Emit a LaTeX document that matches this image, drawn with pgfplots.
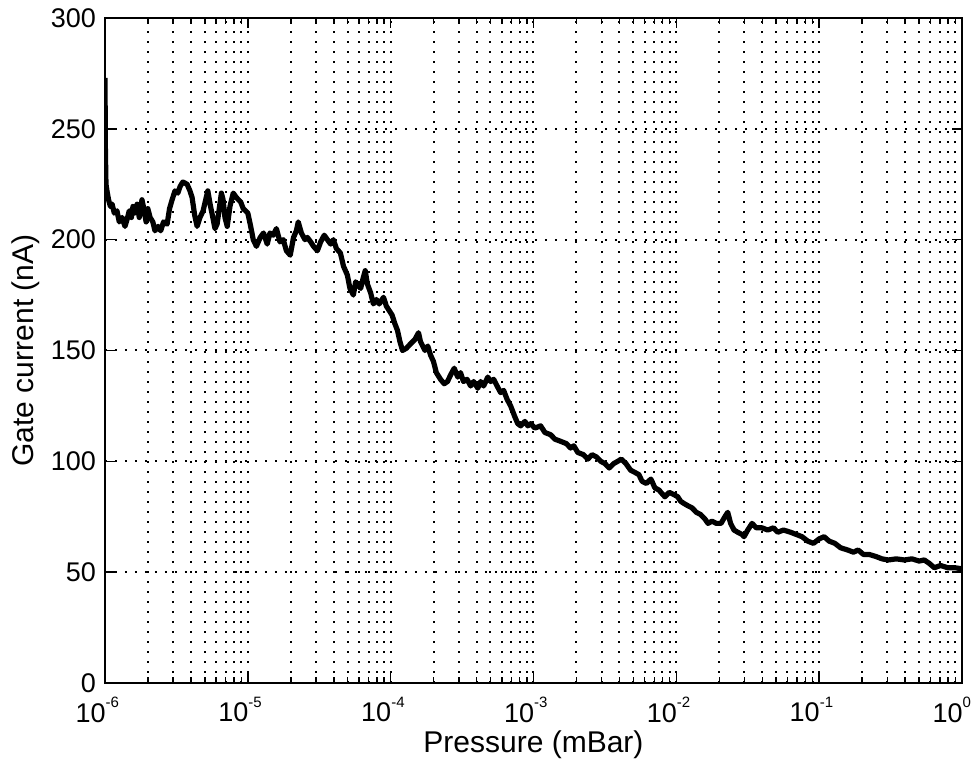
\documentclass[border=0pt]{standalone}
\usepackage{pgfplots}
\usepackage{pgfplotstable}
\pgfplotsset{compat=1.18}
\usepackage{fontspec}
\setmainfont{Liberation Sans}
\newcommand{\tp}[1]{10\rlap{\raisebox{1.0ex}{\fontsize{7.5}{8}\selectfont #1}}}
\pgfplotstableread{
lx v
-6.000 273
-5.997 240
-5.993 225
-5.986 222
-5.975 218
-5.962 215
-5.950 216
-5.935 212
-5.916 213
-5.900 208
-5.880 210
-5.860 206
-5.846 209
-5.830 213
-5.815 210
-5.804 215
-5.790 212
-5.775 216
-5.760 210
-5.741 218
-5.725 213
-5.712 208
-5.700 214
-5.684 210
-5.665 208
-5.650 204
-5.628 206
-5.610 204
-5.590 208
-5.565 207
-5.548 214
-5.530 218
-5.510 222
-5.490 221
-5.474 224
-5.455 226
-5.425 225
-5.405 222
-5.390 219
-5.372 211
-5.355 206
-5.335 210
-5.313 213
-5.295 218
-5.280 222
-5.264 216
-5.245 210
-5.230 205
-5.215 207
-5.200 214
-5.185 221
-5.173 218
-5.160 210
-5.144 206
-5.125 215
-5.102 221
-5.080 219
-5.050 217
-5.032 214
-5.000 212
-4.980 206
-4.962 200
-4.940 197
-4.913 201
-4.890 203
-4.864 198
-4.845 203
-4.822 202
-4.800 205
-4.775 199
-4.752 200
-4.730 195
-4.703 193
-4.680 201
-4.660 204
-4.647 208
-4.625 203
-4.600 200
-4.583 201
-4.560 199
-4.540 197
-4.513 195
-4.490 199
-4.465 202
-4.443 200
-4.420 198
-4.401 200
-4.380 196
-4.352 194
-4.330 188
-4.303 184
-4.285 178
-4.261 175
-4.245 181
-4.233 180
-4.210 178
-4.191 183
-4.178 186
-4.163 180
-4.140 176
-4.121 171
-4.100 173
-4.080 171
-4.050 174
-4.030 170
-4.010 168
-3.990 166
-3.970 162
-3.952 159
-3.935 154
-3.917 150
-3.890 151
-3.861 153
-3.830 155
-3.805 158
-3.791 154
-3.760 150
-3.740 152
-3.721 148
-3.700 145
-3.680 140
-3.651 137
-3.625 135
-3.602 136
-3.580 139
-3.555 142
-3.530 138
-3.511 140
-3.490 136
-3.465 137
-3.440 134
-3.419 136
-3.390 133
-3.370 136
-3.349 134
-3.320 138
-3.300 136
-3.279 137
-3.255 134
-3.230 131
-3.209 132
-3.185 128
-3.160 125
-3.130 120
-3.110 117
-3.090 116
-3.060 118
-3.040 116
-3.020 117
-2.990 115
-2.950 116
-2.920 113
-2.880 112
-2.850 110
-2.809 109
-2.770 108
-2.740 106
-2.718 107
-2.690 104
-2.650 103
-2.620 101
-2.590 103
-2.560 102
-2.529 100
-2.500 99
-2.470 97
-2.438 99
-2.410 100
-2.385 101
-2.353 99
-2.320 96
-2.290 95
-2.262 94
-2.240 91
-2.210 90
-2.178 92
-2.150 88
-2.120 87
-2.108 86
-2.080 84
-2.050 86
-2.017 85
-1.990 84
-1.970 82
-1.947 81
-1.920 80
-1.890 79
-1.860 77
-1.830 76
-1.800 74
-1.778 72
-1.750 73
-1.720 72
-1.687 72
-1.660 75
-1.640 77
-1.620 72
-1.596 69
-1.570 68
-1.540 67
-1.526 66
-1.500 69
-1.470 72
-1.440 70
-1.400 70
-1.360 69
-1.320 70
-1.290 68
-1.250 69
-1.200 68
-1.160 67
-1.120 66
-1.080 64
-1.040 63
-1.000 65
-0.965 66
-0.930 64
-0.890 63
-0.850 61
-0.800 60
-0.760 59
-0.727 60
-0.690 58
-0.650 58
-0.600 57
-0.560 56
-0.516 55.5
-0.460 56
-0.404 55.5
-0.350 56
-0.300 55
-0.264 55.5
-0.230 54
-0.194 52
-0.150 53
-0.100 52
-0.050 52
0.000 51.5
}\gatedata
\begin{document}
\begin{tikzpicture}
\begin{axis}[
  scale only axis,
  width=428.5pt, height=332.5pt,
  xmode=log,
  xmin=1e-6, xmax=1,
  ymin=0, ymax=300,
  ytick={0,50,100,150,200,250,300},
  xtick={1e-6,1e-5,1e-4,1e-3,1e-2,1e-1,1},
  xticklabels={\tp{-6},\tp{-5},\tp{-4},\tp{-3},\tp{-2},\tp{-1},\tp{0}},
  /pgf/number format/assume math mode=true,
  tick align=inside,
  major tick length=5pt,
  minor tick length=3pt,
  tick style={black, line width=0.7pt},
  xmajorgrids, xminorgrids, ymajorgrids,
  major grid style={black, line width=1pt, dash pattern=on 1pt off 4pt},
  minor grid style={black, line width=1pt, dash pattern=on 1pt off 4pt},
  axis line style={black, line width=1.2pt},
  tick label style={font=\fontsize{13.5}{15}\selectfont},
  label style={font=\fontsize{15}{17}\selectfont},
  xlabel={Pressure (mBar)},
  ylabel={Gate current (nA)},
  xlabel style={at={(axis description cs:0.5,-0.093)}, anchor=center},
  ylabel style={at={(axis description cs:-0.093,0.5)}, anchor=center},
  yticklabel style={xshift=-1pt},
  xticklabel style={anchor=north east, inner sep=0pt, xshift=0.5pt, yshift=-7pt},
]
\addplot[black, line width=2.6pt, line join=round] table[x expr={10^(\thisrow{lx})}, y=v] {\gatedata};
\coordinate (sw) at (rel axis cs:0,0);
\coordinate (ne) at (rel axis cs:1,1);
\end{axis}
\pgfresetboundingbox
\path ([shift={(-52.5pt,-42.5pt)}]sw) rectangle ([shift={(6.5pt,9pt)}]ne);
\end{tikzpicture}
\end{document}
